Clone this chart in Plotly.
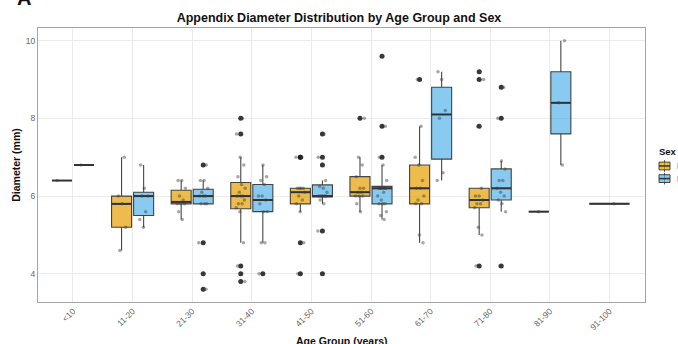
import numpy as np
import plotly.graph_objects as go

categories = ['<10', '11-20', '21-30', '31-40', '41-50', '51-60', '61-70', '71-80', '81-90', '91-100']

female_values = [
    [6.4],
    [4.6, 5.2, 5.8, 6.0, 7.0],
    [5.4, 5.6, 5.8, 5.8, 5.8, 5.9, 6.0, 6.2, 6.4, 6.4],
    [3.8, 4.0, 4.2, 4.8, 5.6, 5.7, 5.8, 5.8, 5.9, 6.0, 6.0, 6.0, 6.1, 6.2, 6.3, 6.5, 6.8, 7.0, 7.6, 8.0],
    [4.0, 4.8, 5.6, 5.8, 5.9, 6.0, 6.1, 6.2, 6.2, 6.2, 6.2, 7.0, 7.0],
    [5.6, 5.8, 6.0, 6.0, 6.0, 6.1, 6.1, 6.2, 6.2, 6.5, 6.8, 7.0, 8.0],
    [4.8, 5.0, 5.8, 5.8, 5.9, 6.0, 6.2, 6.2, 6.4, 6.8, 7.0, 7.8, 9.0],
    [4.2, 5.0, 5.2, 5.7, 5.8, 5.8, 5.9, 6.0, 6.0, 6.2, 7.8, 9.0, 9.2],
    [5.6],
    [],
]

male_values = [
    [6.8],
    [5.2, 5.4, 5.6, 6.0, 6.0, 6.2, 6.8],
    [3.6, 4.0, 4.8, 5.8, 5.8, 5.8, 6.0, 6.0, 6.0, 6.1, 6.2, 6.4, 6.4, 6.8],
    [4.0, 4.8, 4.8, 5.6, 5.6, 5.8, 5.9, 6.0, 6.0, 6.3, 6.4, 6.5, 6.8],
    [4.0, 5.1, 5.8, 5.9, 6.0, 6.0, 6.0, 6.0, 6.0, 6.1, 6.2, 6.25, 6.4, 6.8, 7.0, 7.6],
    [5.4, 5.5, 5.6, 5.8, 5.8, 5.8, 5.9, 6.0, 6.1, 6.2, 6.2, 6.2, 6.2, 6.2, 6.2, 6.4, 6.8, 7.0, 7.8, 9.6],
    [6.4, 6.6, 8.0, 8.2, 9.0, 9.2],
    [4.2, 5.6, 5.8, 5.9, 6.0, 6.1, 6.2, 6.4, 6.4, 6.7, 6.9, 8.0, 8.8],
    [6.8, 8.4, 10.0],
    [5.8],
]

sex_names = ['F', 'M']
sex_fills = ['rgba(230,159,0,0.7)', 'rgba(86,180,233,0.7)']

DODGE = 0.185
BOX_W = 0.336
JIT = 0.08
OUTLINE = 'rgba(51,51,51,0.9)'


def stats(v):
    a = np.array(v, dtype=float)
    q1, med, q3 = np.percentile(a, [25, 50, 75])
    iqr = q3 - q1
    lo_f, hi_f = q1 - 1.5 * iqr, q3 + 1.5 * iqr
    inside = a[(a >= lo_f) & (a <= hi_f)]
    outl = a[(a < lo_f) | (a > hi_f)]
    return q1, med, q3, inside.min(), inside.max(), outl


fig = go.Figure()

med_x, med_y = [], []
out_x, out_y = [], []
jit_x, jit_y = [], []

for s, (name, fill, vals) in enumerate(zip(sex_names, sex_fills, [female_values, male_values])):
    groups = {}
    for i, v in enumerate(vals):
        if len(v) == 0:
            continue
        other = male_values[i] if s == 0 else female_values[i]
        if len(other) == 0:
            pos, w = float(i), 2 * BOX_W
        else:
            pos, w = i + (-DODGE if s == 0 else DODGE), BOX_W
        q1, med, q3, lo, hi, outl = stats(v)
        g = groups.setdefault(w, {'x': [], 'q1': [], 'med': [], 'q3': [], 'lo': [], 'hi': []})
        g['x'].append(pos); g['q1'].append(q1); g['med'].append(med); g['q3'].append(q3)
        g['lo'].append(lo); g['hi'].append(hi)
        med_x += [pos - w / 2, pos + w / 2, None]
        med_y += [med, med, None]
        for o in outl:
            out_x.append(pos); out_y.append(o)
        for k, y in enumerate(v):
            jit_x.append(pos + JIT * (((k * 0.6180339 + 0.31 * i + 0.17 * s) % 1.0) * 2 - 1))
            jit_y.append(y)
    for w, g in groups.items():
        fig.add_trace(go.Box(
            x=g['x'], q1=g['q1'], median=g['med'], q3=g['q3'],
            lowerfence=g['lo'], upperfence=g['hi'],
            width=w, whiskerwidth=0, boxpoints=False,
            fillcolor=fill, line=dict(color=OUTLINE, width=1.1),
            name=name, showlegend=False,
        ))

fig.add_trace(go.Scatter(x=med_x, y=med_y, mode='lines', line=dict(color='#333333', width=2),
                         showlegend=False, hoverinfo='skip'))
fig.add_trace(go.Scatter(x=out_x, y=out_y, mode='markers',
                         marker=dict(color='rgba(20,20,20,0.85)', size=5),
                         showlegend=False, hoverinfo='skip'))
fig.add_trace(go.Scatter(x=jit_x, y=jit_y, mode='markers',
                         marker=dict(color='rgba(60,60,60,0.45)', size=3.5),
                         showlegend=False, hoverinfo='skip'))

W, H = 678, 344
L, R, T, B = 38, 33, 28, 34
pw, ph = W - L - R, H - T - B


def px_x(x):
    return (x - L) / pw


def px_y(y):
    return (H - B - y) / ph


# manual legend (ggplot-style keys), clipped by the page edge like the reference
shapes = []
annotations = [
    dict(text='<b>Sex</b>', xref='paper', yref='paper', x=px_x(657), xanchor='left',
         y=px_y(155), yanchor='middle', showarrow=False, font=dict(size=9.5, color='#111111')),
]
key_x0, key_x1 = 659, 670
for s, (name, fill) in enumerate(zip(sex_names, sex_fills)):
    cy = 170 + 13 * s
    xm = (key_x0 + key_x1) / 2
    shapes.append(dict(type='line', xref='paper', yref='paper', x0=px_x(xm), x1=px_x(xm),
                       y0=px_y(cy - 6), y1=px_y(cy + 6), line=dict(color='#555555', width=1)))
    shapes.append(dict(type='rect', xref='paper', yref='paper', x0=px_x(key_x0), x1=px_x(key_x1),
                       y0=px_y(cy - 4), y1=px_y(cy + 4), fillcolor=fill,
                       line=dict(color=OUTLINE, width=1)))
    shapes.append(dict(type='line', xref='paper', yref='paper', x0=px_x(key_x0), x1=px_x(key_x1),
                       y0=px_y(cy), y1=px_y(cy), line=dict(color='#333333', width=1.5)))
    annotations.append(dict(text=name, xref='paper', yref='paper', x=px_x(675), xanchor='left',
                            y=px_y(cy), yanchor='middle', showarrow=False,
                            font=dict(size=9.5, color='#111111')))

annotations += [
    dict(text='<b>Age Group (years)</b>', xref='paper', yref='paper', x=0.5, xanchor='center',
         y=px_y(342), yanchor='top', showarrow=False,
         font=dict(size=10.5, color='#111111')),
    dict(text='<b>A</b>', xref='paper', yref='paper', x=px_x(24), xanchor='center',
         y=px_y(10), yanchor='bottom', showarrow=False,
         font=dict(size=20, color='#111111')),
]

fig.update_layout(
    width=W, height=H,
    margin=dict(l=L, r=R, t=T, b=B),
    paper_bgcolor='white', plot_bgcolor='white',
    font=dict(family='Liberation Sans, Arial, sans-serif', color='#333333'),
    title=dict(text='<b>Appendix Diameter Distribution by Age Group and Sex</b>',
               x=0.5, xanchor='center', xref='container', y=1 - 18 / H, yanchor='middle',
               font=dict(size=12.5, color='#111111')),
    showlegend=False,
    xaxis=dict(
        range=[-0.587, 9.597],
        tickmode='array', tickvals=list(range(len(categories))), ticktext=categories,
        tickangle=-45, tickfont=dict(size=8.5, color='#666666'),
        showgrid=True, gridcolor='#ebebeb', gridwidth=1,
        showline=True, linecolor='#a6a6a6', linewidth=1, mirror=True,
        zeroline=False, ticks='',
    ),
    yaxis=dict(
        range=[3.275, 10.325],
        tickvals=[4, 6, 8, 10], tickfont=dict(size=8.5, color='#666666'),
        showgrid=True, gridcolor='#ebebeb', gridwidth=1,
        showline=True, linecolor='#a6a6a6', linewidth=1, mirror=True,
        zeroline=False, ticks='',
        title=dict(text='<b>Diameter (mm)</b>', font=dict(size=10.5, color='#111111'), standoff=3),
    ),
    shapes=shapes,
    annotations=annotations,
)

fig.write_html('out.html', config={'displayModeBar': False},
               post_script="document.body.style.margin='0';document.body.style.overflow='hidden';")
